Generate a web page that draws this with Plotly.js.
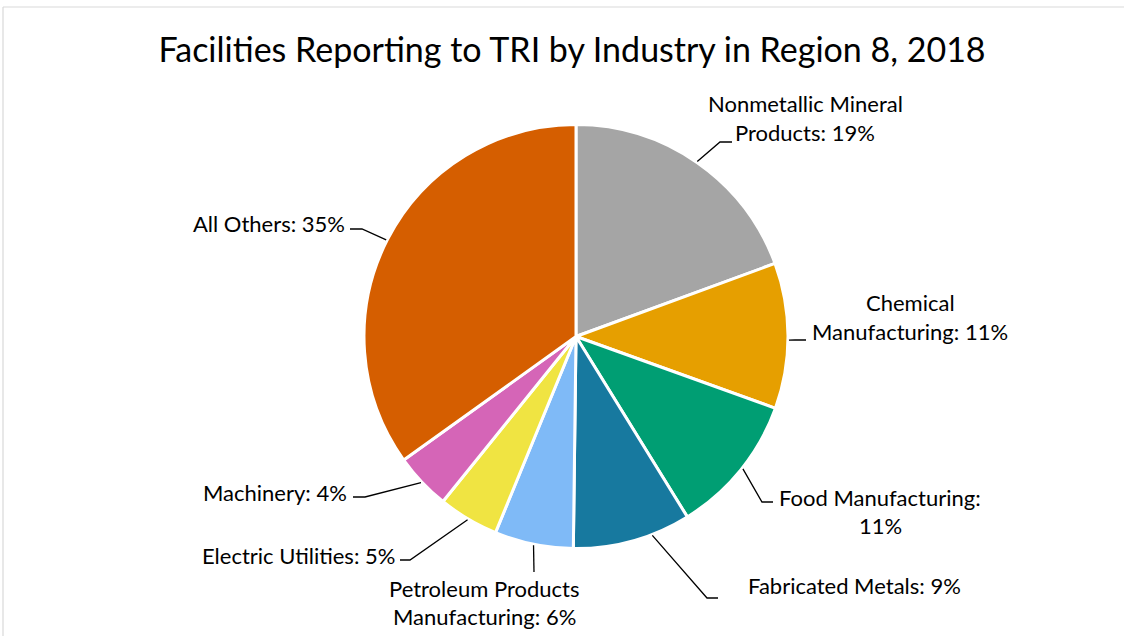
<!DOCTYPE html>
<html><head><meta charset="utf-8">
<script src="https://cdn.plot.ly/plotly-3.0.1.min.js"></script>
<style>html,body{margin:0;padding:0;background:#fff}#chart{width:1124px;height:636px}</style>
</head><body><div id="chart"></div>
<script>
// ---- data ----
const categories = ["Nonmetallic Mineral Products", "Chemical Manufacturing", "Food Manufacturing", "Fabricated Metals", "Petroleum Products Manufacturing", "Electric Utilities", "Machinery", "All Others"];
const shares = [19.4, 11.1, 10.7, 9.0, 6.0, 4.6, 4.3, 34.9];
const sliceColors = ["#A5A5A5", "#E69F00", "#009E73", "#17799F", "#7FBAF7", "#F0E442", "#D565B7", "#D55E00"];
const chartTitle = "Facilities Reporting to TRI by Industry in Region 8, 2018";

// ---- layout (pixels) ----
const W = 1124, H = 636;
const CX = 576, CY = 336.5, R = 212;
const FONT = "Lato, 'Open Sans', sans-serif";
const LABEL_SIZE = 22, LINE_GAP = 28.5;
// label placement: brk = words on first line (0 = single line), x/y = centre of first line,
// lead = [angle on rim (deg clockwise from top), elbowX, elbowY, endX]
const labelPlace = [
  {brk: 2, x: 805, y: 104, lead: [34.7, 720, 142, 732]},
  {brk: 1, x: 910, y: 303, lead: [91, 795, 340, 806]},
  {brk: 2, x: 880, y: 497, lead: [128.4, 762, 502, 773]},
  {brk: 0, x: 854, y: 585, lead: [159, 707, 598, 718]},
  {brk: 2, x: 484, y: 588, lead: [191.5, 534, 572, 534]},
  {brk: 0, x: 298, y: 555, lead: [210.6, 410, 560, 400]},
  {brk: 0, x: 275, y: 492, lead: [226.7, 365, 497, 353]},
  {brk: 0, x: 269, y: 223, lead: [297, 362, 229, 350]}
];

const px = x => x / W;
const py = y => 1 - y / H;
const total = shares.reduce((a, b) => a + b, 0);

const pie = {
  type: "pie",
  values: shares,
  labels: categories,
  sort: false,
  direction: "clockwise",
  rotation: 0,
  textinfo: "none",
  hoverinfo: "label+percent",
  showlegend: false,
  marker: {colors: sliceColors, line: {color: "#ffffff", width: 3}},
  domain: {x: [px(CX - R), px(CX + R)], y: [py(CY + R), py(CY - R)]}
};

const annotations = [];
const shapes = [];
categories.forEach((name, i) => {
  const pct = Math.round(shares[i] / total * 100);
  const words = (name + ": " + pct + "%").split(" ");
  const p = labelPlace[i];
  const lines = p.brk ? [words.slice(0, p.brk).join(" "), words.slice(p.brk).join(" ")] : [words.join(" ")];
  lines.forEach((t, k) => annotations.push({
    text: t, xref: "paper", yref: "paper", x: px(p.x), y: py(p.y + k * LINE_GAP),
    xanchor: "center", yanchor: "middle", showarrow: false,
    font: {family: FONT, size: LABEL_SIZE, color: "#000"}
  }));
  const a = p.lead[0] * Math.PI / 180;
  const sx = CX + (R + 1) * Math.sin(a), sy = CY - (R + 1) * Math.cos(a);
  shapes.push({
    type: "path", xref: "paper", yref: "paper",
    path: `M${px(sx)},${py(sy)} L${px(p.lead[1])},${py(p.lead[2])} L${px(p.lead[3])},${py(p.lead[2])}`,
    line: {color: "#000", width: 1.3}
  });
});
// chart frame (top and left edges visible)
shapes.push({type: "line", xref: "paper", yref: "paper", x0: px(3), x1: 1, y0: py(7), y1: py(7), line: {color: "#D9D9D9", width: 1.2}});
shapes.push({type: "line", xref: "paper", yref: "paper", x0: px(3), x1: px(3), y0: py(7), y1: 0, line: {color: "#D9D9D9", width: 1.2}});

const layout = {
  width: W, height: H,
  margin: {l: 0, r: 0, t: 0, b: 0},
  paper_bgcolor: "#fff",
  title: {text: chartTitle, font: {family: FONT, size: 34, color: "#000"}, x: px(572), xanchor: "center", y: py(50), yanchor: "middle", yref: "container"},
  annotations: annotations,
  shapes: shapes
};
Plotly.newPlot("chart", [pie], layout, {displayModeBar: false, staticPlot: true});
</script></body></html>
